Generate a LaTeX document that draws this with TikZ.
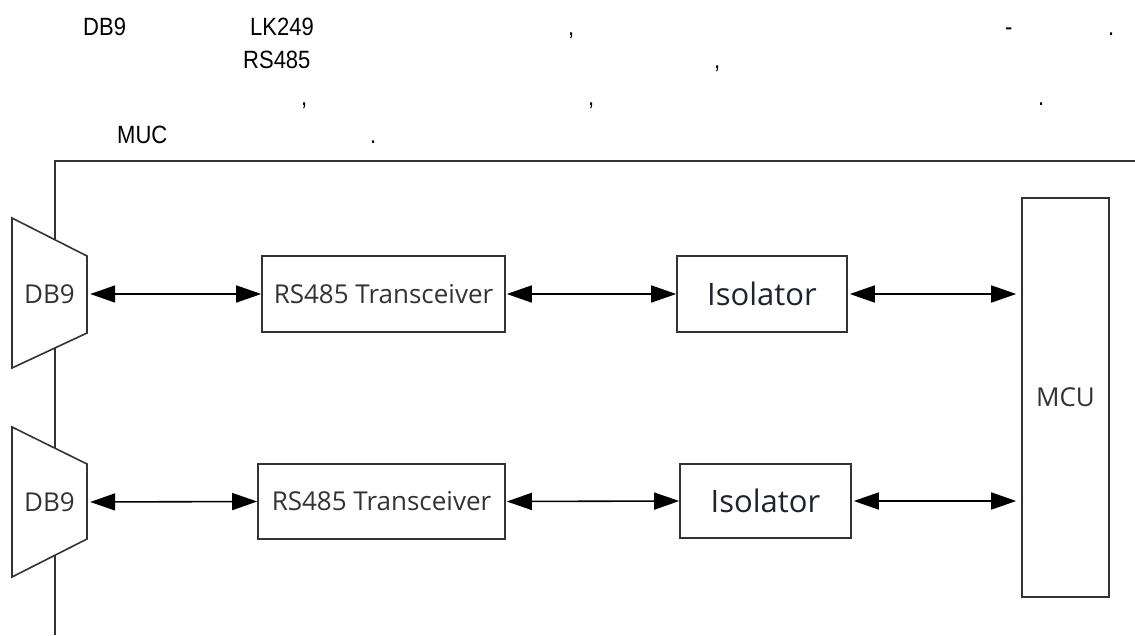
\documentclass[tikz,border=0pt]{standalone}
\usepackage{fontspec}
\setmainfont{Open Sans}
\newfontfamily\topfont[FakeStretch=0.88]{Liberation Sans}
\usetikzlibrary{arrows.meta}
\definecolor{linegray}{HTML}{333333}
\definecolor{isoblue}{HTML}{20222E}
\begin{document}
\begin{tikzpicture}[x=1pt,y=-1pt,
  box/.style={draw=linegray, line width=1.6pt, inner sep=0pt, fill=white},
  lbl/.style={font=\fontsize{26}{30}\selectfont, text=linegray},
  isolbl/.style={font=\fontsize{31}{34}\selectfont, text=isoblue},
  biarrow/.style={line width=1.6pt, draw=black, {Triangle[length=25pt,width=17pt]}-{Triangle[length=25pt,width=17pt]}},
  toptext/.style={anchor=base west, inner sep=0pt, font=\topfont\fontsize{25}{28}\selectfont}]
\useasboundingbox (0,0) rectangle (1135,635);
% top text fragments
\node[toptext] (t1) at (83,35) {DB9};
\node[toptext] (t2) at (250,35) {LK249};
\node[toptext] (t3) at (568,35) {,};
\node[toptext] (t4) at (1005,35) {-};
\node[toptext] (t5) at (1108,35) {.};
\node[toptext] (t6) at (243,68) {RS485};
\node[toptext] (t7) at (714,68) {,};
\node[toptext] (t8) at (301,105) {,};
\node[toptext] (t9) at (588,105) {,};
\node[toptext] (t10) at (1038,105) {.};
\node[toptext] (t11) at (117,143) {MUC};
\node[toptext] (t12) at (370,143) {.};
% frame
\draw[draw=linegray, line width=2pt] (1135,161) -- (55,161) -- (55,635);
% DB9 connectors
\draw[draw=linegray, line width=1.6pt, fill=white] (12,218) -- (87,256) -- (87,333) -- (12,368) -- cycle;
\draw[draw=linegray, line width=1.6pt, fill=white] (12,427) -- (87,464) -- (87,539) -- (12,577) -- cycle;
\node[lbl, minimum width=75pt, minimum height=60pt, inner sep=0pt] (db1) at (49.5,294) {DB9};
\node[lbl, minimum width=75pt, minimum height=60pt, inner sep=0pt] (db2) at (49.5,502) {DB9};
% boxes
\node[box, lbl, minimum width=243pt, minimum height=76pt] (rs1) at (383.5,294) {RS485 Transceiver};
\node[box, lbl, minimum width=247pt, minimum height=75pt] (rs2) at (381.5,501.5) {RS485 Transceiver};
\node[box, isolbl, minimum width=170pt, minimum height=76pt] (iso1) at (762,294) {Isolator};
\node[box, isolbl, minimum width=171pt, minimum height=74pt] (iso2) at (765.5,501) {Isolator};
\node[box, lbl, minimum width=87pt, minimum height=399pt] (mcu) at (1065.5,397.5) {MCU};
% arrows
\draw[biarrow, shorten <=3pt] (db1.east) -- (rs1.west);
\draw[biarrow, shorten <=1pt] (rs1.east) -- (iso1.west);
\draw[biarrow, shorten <=2pt, shorten >=5pt] (iso1.east) -- (iso1.east -| mcu.west);
\draw[biarrow, shorten <=3pt] (db2.east) -- (rs2.west);
\draw[biarrow, shorten <=1pt] (rs2.east) -- (iso2.west);
\draw[biarrow, shorten <=2pt, shorten >=5pt] (iso2.east) -- (iso2.east -| mcu.west);
\end{tikzpicture}
\end{document}
